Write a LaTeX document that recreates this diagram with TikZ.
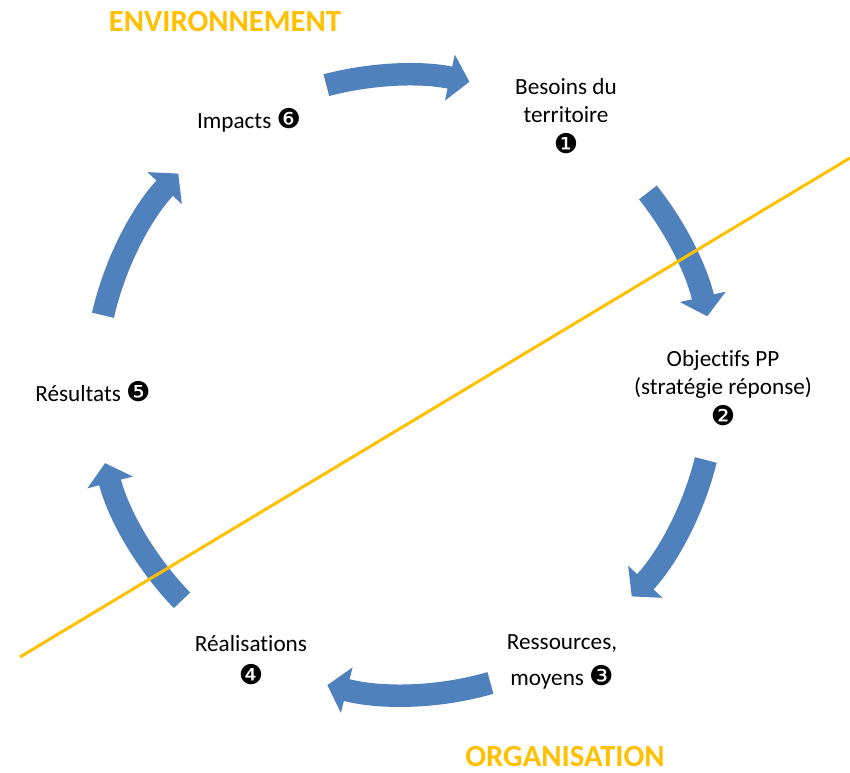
\documentclass[tikz,border=0pt]{standalone}
\usepackage{fontspec}
\setmainfont{Carlito}[Ligatures=NoCommon]
\newfontfamily\dingfont{DejaVu Sans}
\usetikzlibrary{arrows.meta,positioning}
\definecolor{fluxbleu}{HTML}{4F81BD}
\definecolor{zonejaune}{HTML}{FFC000}
\tikzset{
	etape/.style={align=center,font=\fontsize{13.2}{16}\selectfont,inner sep=0pt},
	zone/.style={font=\fontsize{17.5}{20}\selectfont\bfseries,text=zonejaune,inner sep=0pt},
	flux/.style={draw=fluxbleu,line width=0.45cm,-{Triangle[length=0.4cm,width=0.92cm]}},
}
\newcommand{\rond}[1]{{\dingfont\fontsize{15.5}{16}\selectfont #1}}

\begin{document}
\begin{tikzpicture}[x=0.02cm,y=0.02cm]
		\useasboundingbox (0,0) rectangle (850,773);
		\coordinate		(c)		at (405,388);

		\node[etape]	(besoins)		at (566,657)	{Besoins du\\territoire\\[2pt]\rond{❶}};
		\node[etape]	(objectifs)		at (723,385)	{Objectifs PP\\(stratégie réponse)\\[2pt]\rond{❷}};
		\node[etape]	(ressources)	at (562,111)	{Ressources,\\[4pt]moyens \rond{❸}};
		\node[etape]	(realisations)	at (251,113)	{Réalisations\\[3pt]\rond{❹}};
		\node[etape]	(resultats)		at (93,381)		{Résultats \rond{❺}};
		\node[etape]	(impacts)		at (249,653)	{Impacts \rond{❻}};

		\node[zone]		(environnement)	at (225,751)	{ENVIRONNEMENT};
		\node[zone]		(organisation)	at (565,16)		{ORGANISATION};

		\draw[flux]		([shift={(104.7:310)}]c)	arc[start angle=104.7,end angle=78,radius=310];
		\draw[flux]		([shift={(38.4:310)}]c)		arc[start angle=38.4,end angle=12.8,radius=310];
		\draw[flux]		([shift={(-14:310)}]c)		arc[start angle=-14,end angle=-43,radius=310];
		\draw[flux]		([shift={(-74:310)}]c)		arc[start angle=-74,end angle=-104.5,radius=310];
		\draw[flux]		([shift={(-136:310)}]c)		arc[start angle=-136,end angle=-165.4,radius=310];
		\draw[flux]		([shift={(167:310)}]c)		arc[start angle=167,end angle=137,radius=310];

		\coordinate		(l1)	at (20,116);
		\coordinate		(l2)	at (850,615);
		\draw[zonejaune,line width=0.06cm]	(l1) -- (l2);
	\end{tikzpicture}
\end{document}
